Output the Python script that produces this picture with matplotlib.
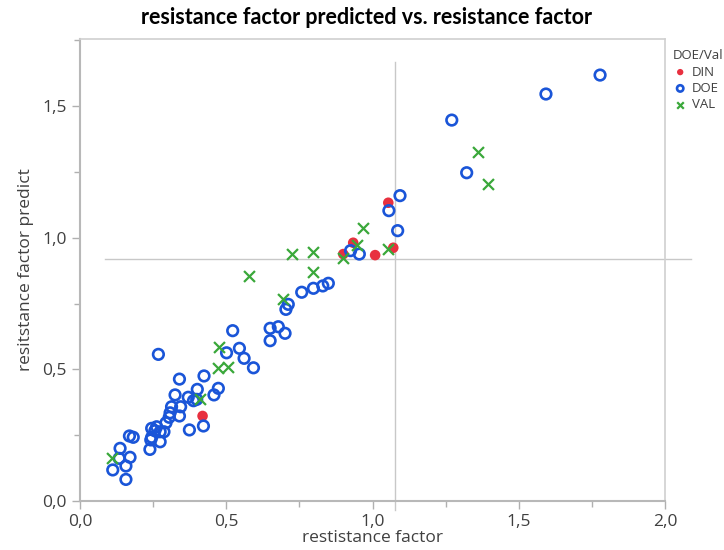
import matplotlib
matplotlib.use("Agg")
import matplotlib.pyplot as plt
from matplotlib.ticker import MultipleLocator, FuncFormatter

# ---- data ----
din_x = [1.054, 0.934, 0.900, 1.009, 1.071, 0.419]
din_y = [1.133, 0.981, 0.938, 0.934, 0.962, 0.323]

val_x = [1.360, 1.394, 0.966, 0.947, 1.054, 0.900, 0.798, 0.724, 0.579, 0.795,
         0.693, 0.476, 0.473, 0.505, 0.410, 0.108]
val_y = [1.324, 1.204, 1.036, 0.972, 0.957, 0.922, 0.947, 0.937, 0.855, 0.869,
         0.766, 0.586, 0.504, 0.510, 0.386, 0.164]

doe_x = [1.778, 1.593, 1.271, 1.322, 1.094, 1.056, 1.086, 0.925, 0.955,
         0.849, 0.830, 0.798, 0.758, 0.712, 0.704,
         0.650, 0.678, 0.701, 0.650,
         0.522, 0.545, 0.561, 0.593, 0.501,
         0.268,
         0.424, 0.340, 0.401, 0.473, 0.458,
         0.325, 0.370, 0.388, 0.399,
         0.344, 0.313, 0.308, 0.305, 0.340,
         0.422, 0.374, 0.294,
         0.262, 0.245, 0.256, 0.274, 0.287,
         0.245, 0.242, 0.274, 0.239,
         0.169, 0.182,
         0.137, 0.134, 0.171, 0.157, 0.112, 0.157]
doe_y = [1.618, 1.546, 1.447, 1.247, 1.160, 1.103, 1.027, 0.951, 0.938,
         0.827, 0.817, 0.808, 0.793, 0.747, 0.728,
         0.656, 0.662, 0.637, 0.609,
         0.647, 0.580, 0.542, 0.506, 0.563,
         0.557,
         0.475, 0.463, 0.424, 0.428, 0.403,
         0.403, 0.394, 0.381, 0.386,
         0.358, 0.358, 0.335, 0.318, 0.323,
         0.285, 0.270, 0.297,
         0.282, 0.276, 0.267, 0.263, 0.263,
         0.242, 0.232, 0.225, 0.196,
         0.247, 0.242,
         0.200, 0.162, 0.166, 0.133, 0.118, 0.082]

ref_x = 1.077
ref_y = 0.919

title = "resistance factor predicted vs. resistance factor"
xlabel = "restistance factor"
ylabel = "resitstance factor predict"
legend_title = "DOE/Val"
labels = ["DIN", "DOE", "VAL"]

# ---- figure ----
W, H = 724, 550
fig = plt.figure(figsize=(W / 100, H / 100), dpi=100)
L, R, T, B = 80, 665, 39, 501
ax = fig.add_axes([L / W, 1 - B / H, (R - L) / W, (B - T) / H])

txt = "#404040"
blue = "#1a55d8"
red = "#e8303f"
green = "#3aa83a"

ax.scatter(din_x, din_y, s=58, color=red, edgecolors="none", zorder=3, label=labels[0])
ax.scatter(doe_x, doe_y, s=58, facecolors="none", edgecolors=blue, linewidths=1.9,
           zorder=3, label=labels[1])
ax.scatter(val_x, val_y, s=62, marker="x", color=green, linewidths=1.6, zorder=3,
           label=labels[2])

ax.set_xlim(0, 2.0)
ax.set_ylim(0, 1.755)

# reference lines (extend slightly beyond frame as in the original)
ax.plot([0.085, 2.09], [ref_y, ref_y], color="#c8c8c8", lw=1.0, clip_on=False, zorder=1)
ax.plot([ref_x, ref_x], [-0.034, 1.667], color="#c8c8c8", lw=1.0, clip_on=False, zorder=1)

ax.xaxis.set_major_locator(MultipleLocator(0.5))
ax.xaxis.set_minor_locator(MultipleLocator(0.25))
ax.yaxis.set_major_locator(MultipleLocator(0.5))
ax.yaxis.set_minor_locator(MultipleLocator(0.25))
fmt = FuncFormatter(lambda v, p: f"{v:.1f}".replace(".", ","))
ax.xaxis.set_major_formatter(fmt)
ax.yaxis.set_major_formatter(fmt)

ax.tick_params(which="both", direction="out", color="#b0b0b0", labelcolor=txt,
               labelsize=12.5)
ax.tick_params(which="major", length=6, width=1)
ax.tick_params(which="minor", length=4, width=1)
for s in ["left", "bottom"]:
    ax.spines[s].set_color("#b8b8b8")
    ax.spines[s].set_linewidth(1.5)
for s in ["top", "right"]:
    ax.spines[s].set_color("#d0d0d0")
    ax.spines[s].set_linewidth(1.2)

for lab in ax.get_xticklabels() + ax.get_yticklabels():
    lab.set_family(["Open Sans", "DejaVu Sans"])

ax.set_xlabel(xlabel, fontsize=12.5, color=txt, family=["Open Sans", "DejaVu Sans"],
              labelpad=0)
ax.set_ylabel(ylabel, fontsize=12.5, color=txt, family=["Open Sans", "DejaVu Sans"],
              labelpad=6)

fig.text(0.5 * (148 + 585) / W, 1 - 18 / H, title, ha="center", va="center",
         fontsize=15.5, fontweight="bold", color="black", family=["Lato", "DejaVu Sans"])

leg = fig.legend(loc="upper left", bbox_to_anchor=(667 / W, 1 - 44 / H), frameon=False,
                 title=legend_title, fontsize=9.5, title_fontsize=9.5,
                 handletextpad=0.3, labelspacing=0.25, borderaxespad=0,
                 handlelength=1.2, markerscale=0.6,
                 prop={"family": ["Open Sans", "DejaVu Sans"], "size": 9.5})
leg._legend_box.align = "left"
leg.get_title().set_color(txt)
leg.get_title().set_family(["Open Sans", "DejaVu Sans"])
for t in leg.get_texts():
    t.set_color(txt)

fig.savefig("out.png", dpi=100)
